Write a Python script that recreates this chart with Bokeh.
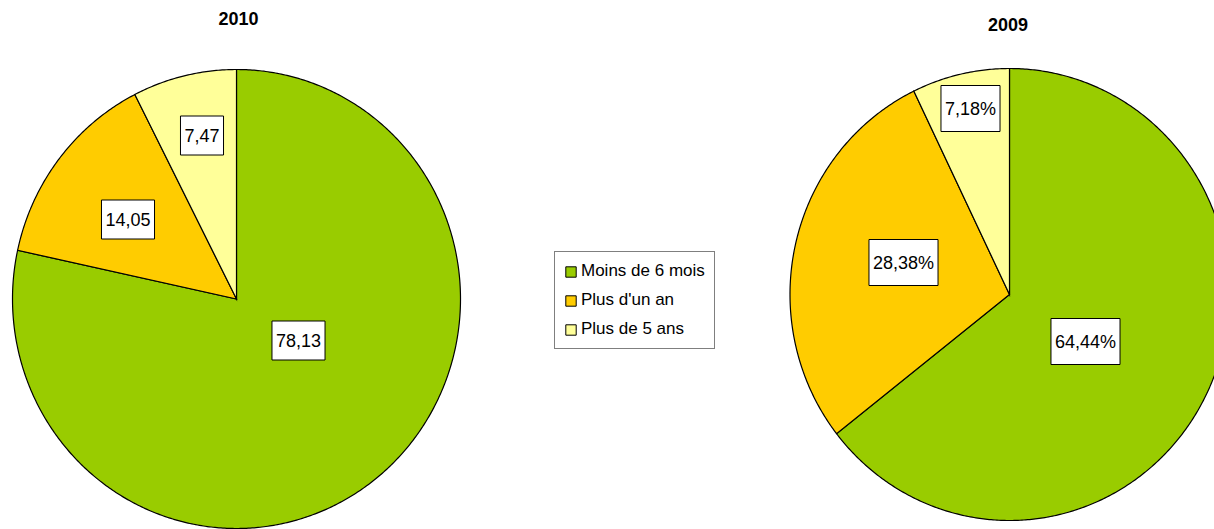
from bokeh.plotting import figure
from bokeh.models import Range1d, Label, ColumnDataSource, Legend, LegendItem
from bokeh.embed import file_html
from bokeh.resources import INLINE
import numpy as np

# ---- data ----
categories = ["Moins de 6 mois", "Plus d'un an", "Plus de 5 ans"]
colors = ["#99CC00", "#FFCC00", "#FFFF99"]
values_2010 = [78.13, 14.05, 7.47]
values_2009 = [64.44, 28.38, 7.18]
titles = ["2010", "2009"]

FONT = "Liberation Sans"
W, H = 1214, 529
# screen-like coordinates: x = screen x, y = H - screen y
p = figure(width=W, height=H, output_backend="svg", toolbar_location=None,
           x_range=Range1d(0, W), y_range=Range1d(0, H),
           min_border=0, outline_line_color=None)
p.axis.visible = False
p.grid.visible = False
p.background_fill_color = "white"

def sy(y):
    return H - y

pies = [
    dict(vals=values_2010, cx=236, cy=sy(298.5), rx=224, ry=229.5, title=titles[0],
         tx=238, ty=sy(18),
         fmt=lambda v: f"{v:.2f}".replace(".", ","),
         lab=[(298, 340), (127.5, 219), (201.5, 135)]),
    dict(vals=values_2009, cx=1009, cy=sy(294), rx=219.5, ry=226, title=titles[1],
         tx=1007.5, ty=sy(23.5),
         fmt=lambda v: f"{v:.2f}".replace(".", ",") + "%",
         lab=[(1085, 341), (903, 262), (970, 108)]),
]

for pie in pies:
    vals = np.array(pie["vals"], dtype=float)
    frac = vals / vals.sum()
    ends = np.pi / 2 - 2 * np.pi * np.cumsum(frac)
    starts = np.concatenate([[np.pi / 2], ends[:-1]])
    xs, ys = [], []
    for a0, a1 in zip(starts, ends):
        n = max(8, int(abs(a1 - a0) / (2 * np.pi) * 720))
        t = np.linspace(a0, a1, n)
        xs.append(np.concatenate([[pie["cx"]], pie["cx"] + pie["rx"] * np.cos(t)]).tolist())
        ys.append(np.concatenate([[pie["cy"]], pie["cy"] + pie["ry"] * np.sin(t)]).tolist())
    src = ColumnDataSource(dict(xs=xs, ys=ys, color=colors))
    p.patches(xs="xs", ys="ys", fill_color="color", line_color="black",
              line_width=1.2, line_join="miter", source=src)
    p.add_layout(Label(x=pie["tx"], y=pie["ty"], text=pie["title"], text_font=FONT,
                       text_font_size="18px", text_font_style="bold",
                       text_align="center", text_baseline="middle", text_color="black"))
    for v, (lx, ly) in zip(pie["vals"], pie["lab"]):
        p.add_layout(Label(x=lx, y=sy(ly), text=pie["fmt"](v), text_font=FONT,
                           text_font_size="18px", text_align="center",
                           text_baseline="middle", text_color="black",
                           background_fill_color="white", border_line_color="black",
                           border_line_width=1,
                           padding=dict(left=4, right=4, top=13, bottom=13)))

# legend (proxy renderers, no visible data)
nan = float("nan")
items = []
for cat, col in zip(categories, colors):
    r = p.quad(left=[nan], right=[nan], top=[nan], bottom=[nan],
               fill_color=col, line_color="black")
    items.append(LegendItem(label=cat, renderers=[r]))
legend = Legend(items=items, location=(554, 180), label_text_font=FONT,
                label_text_font_size="17px", label_text_color="black",
                glyph_width=13, glyph_height=13,
                label_standoff=4, spacing=9, padding=9, margin=0,
                border_line_color="black", border_line_width=1,
                background_fill_color="white", label_height=20)
p.add_layout(legend, "center")

open("out.html", "w").write(file_html(p, INLINE))
